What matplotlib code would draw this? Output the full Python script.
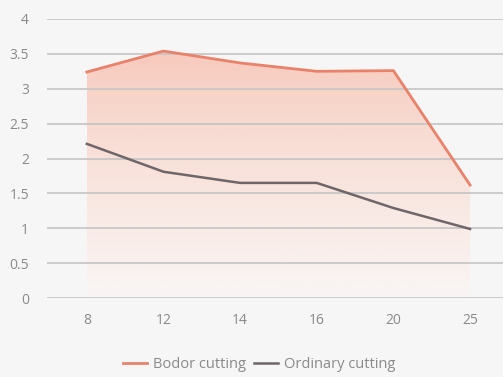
import matplotlib.pyplot as plt
import numpy as np
from matplotlib.colors import LinearSegmentedColormap

# data
categories = ['8', '12', '14', '16', '20', '25']
bodor = [3.24, 3.54, 3.37, 3.25, 3.26, 1.62]
ordinary = [2.21, 1.81, 1.65, 1.65, 1.29, 0.99]
yticks = [0, 0.5, 1, 1.5, 2, 2.5, 3, 3.5, 4]
ytick_labels = ['0', '0.5', '1', '1.5', '2', '2.5', '3', '3.5', '4']

plt.rcParams['font.family'] = ['Open Sans', 'DejaVu Sans']

fig = plt.figure(figsize=(5.03, 3.77), dpi=100, facecolor='#f6f6f6')
ax = fig.add_axes([47/503, 79/377, 456/503, 279/377])
ax.set_facecolor('#f6f6f6')

x = np.arange(len(categories))

# gradient fill under the Bodor line, fading out toward the bottom
grad_cmap = LinearSegmentedColormap.from_list(
    'fade', ['#f9f5f4', '#f9eae5', '#f8dcd3', '#f7cabd'])
grad = np.linspace(0, 1, 256).reshape(-1, 1)
img = ax.imshow(grad, extent=[x[0], x[-1], 0, max(bodor)], origin='lower',
                aspect='auto', cmap=grad_cmap, zorder=1)
poly = ax.fill_between(x, 0, bodor, color='none')
img.set_clip_path(poly.get_paths()[0], transform=ax.transData)

for yv in yticks:
    ax.axhline(yv, color='#c4c4c4', lw=1.2, zorder=2)

ax.plot(x, bodor, color='#e8826a', lw=2, zorder=4, label='Bodor cutting')
ax.plot(x, ordinary, color='#6f6669', lw=1.8, zorder=4, label='Ordinary cutting')

ax.set_xlim(-0.52, 5.43)
ax.set_ylim(0, 4)
ax.set_xticks(x)
ax.set_xticklabels(categories)
ax.set_yticks(yticks)
ax.set_yticklabels(ytick_labels)
ax.tick_params(length=0, colors='#8a8a8a', labelsize=10)
ax.tick_params(axis='y', pad=13)
ax.tick_params(axis='x', pad=11)
for s in ax.spines.values():
    s.set_visible(False)

leg = fig.legend(loc='center', bbox_to_anchor=(0.515, 0.032), ncol=2, frameon=False,
                 fontsize=10.5, handlelength=1.7, handletextpad=0.4, columnspacing=0.5,
                 labelcolor='#8a8a8a')

fig.savefig('out.png', dpi=100, facecolor=fig.get_facecolor())
